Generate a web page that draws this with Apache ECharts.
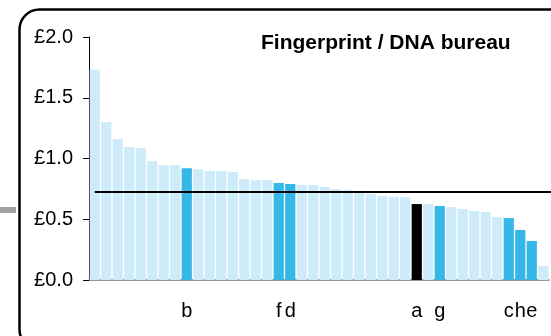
<!DOCTYPE html>
<html>
<head>
<meta charset="utf-8">
<script src="https://cdn.jsdelivr.net/npm/echarts@6/dist/echarts.min.js"></script>
<style>html,body{margin:0;padding:0;background:#fff}#c{width:551px;height:336px}</style>
</head>
<body>
<div id="c"></div>
<script>
var titleText = 'Fingerprint / DNA bureau';
var categories = ['1','2','3','4','5','6','7','8','9','10','11','12','13','14','15','16','17','18','19','20','21','22','23','24','25','26','27','28','29','30','31','32','33','34','35','36','37','38','39','40'];
var labels = ['','','','','','','','','b','','','','','','','','f','d','','','','','','','','','','','a','','g','','','','','','c','h','e',''];
var values = [1.73,1.30,1.16,1.095,1.085,0.98,0.945,0.945,0.92,0.912,0.897,0.897,0.889,0.831,0.823,0.823,0.798,0.79,0.782,0.782,0.765,0.749,0.74,0.735,0.708,0.691,0.683,0.683,0.625,0.625,0.609,0.60,0.584,0.567,0.559,0.518,0.51,0.412,0.321,0.115];
var averageValue = 0.727;
var yTicks = [0, 0.5, 1.0, 1.5, 2.0];

var LIGHT = '#cdebf8', BLUE = '#35b8e8', BLACK = '#000000';
var barData = values.map(function (v, i) {
  var c = labels[i] === 'a' ? BLACK : (labels[i] ? BLUE : LIGHT);
  return { value: v, itemStyle: { color: c } };
});

var chart = echarts.init(document.getElementById('c'), null, { renderer: 'canvas' });
chart.setOption({
  animation: false,
  backgroundColor: '#fff',
  title: {
    text: titleText, left: 261, top: 33, padding: 0,
    textStyle: { fontFamily: 'Liberation Sans, Arial, sans-serif', fontWeight: 'bold', fontSize: 21, color: '#000' }
  },
  graphic: [
    { type: 'rect', left: 0, top: 207, shape: { width: 16, height: 6 }, style: { fill: '#a0a0a0' }, z: 0 },
    { type: 'rect', left: 17, top: 7, shape: { width: 600, height: 340, r: 20 }, style: { fill: 'none', stroke: '#000', lineWidth: 2.5 }, z: 0 }
  ],
  grid: { left: 89, right: 2, top: 37, bottom: 56, containLabel: false },
  xAxis: {
    type: 'category', data: categories,
    axisLine: { lineStyle: { color: '#777', width: 1.5 } },
    axisTick: { show: false },
    axisLabel: {
      interval: 0, margin: 21, color: '#000', fontSize: 20,
      fontFamily: 'Liberation Sans, Arial, sans-serif',
      formatter: function (v, i) { return labels[i]; }
    }
  },
  yAxis: {
    type: 'value', min: yTicks[0], max: yTicks[yTicks.length - 1], interval: 0.5,
    splitLine: { show: false },
    axisLine: { show: true, lineStyle: { color: '#000', width: 1 } },
    axisTick: { show: true, length: 6, lineStyle: { color: '#000' } },
    axisLabel: {
      margin: 16, color: '#000', fontSize: 20,
      fontFamily: 'Liberation Sans, Arial, sans-serif',
      formatter: function (v) { return '£' + v.toFixed(1); }
    }
  },
  series: [{
    type: 'bar', data: barData, barCategoryGap: '11%',
    markLine: {
      silent: true, symbol: 'none', animation: false,
      label: { show: false },
      lineStyle: { color: '#000', width: 2, type: 'solid' },
      data: [[{ coord: [0, averageValue] }, { coord: [categories.length - 1, averageValue], x: 551 }]]
    }
  }]
});
</script>
</body>
</html>
